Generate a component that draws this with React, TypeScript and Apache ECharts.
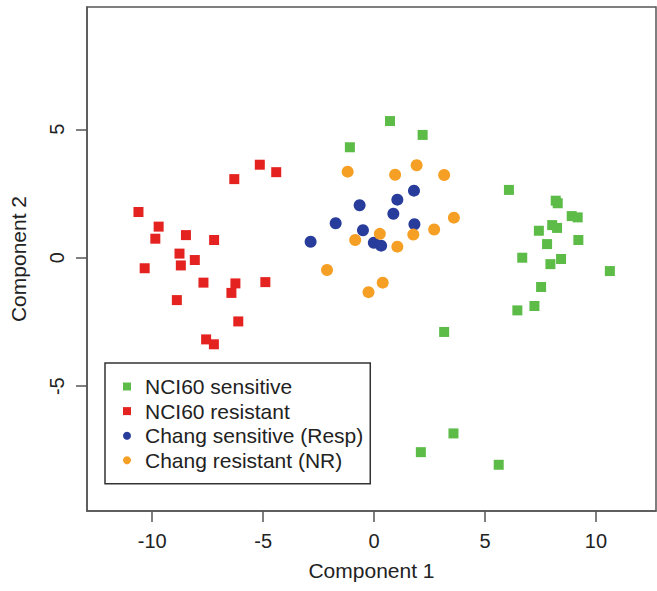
import React, { useEffect, useRef } from "react";
import * as echarts from "echarts";

const xTicks = [-10, -5, 0, 5, 10];
const yTicks = [-5, 0, 5];

const nciSensitive: [number, number][] = [
  [0.72, 5.32], [2.19, 4.78], [-1.09, 4.3],
  [6.08, 2.64], [8.19, 2.22], [8.28, 2.12], [8.91, 1.62], [9.18, 1.57],
  [8.03, 1.27], [8.25, 1.16], [7.43, 1.05], [9.21, 0.69], [7.8, 0.53],
  [6.68, 0.0], [8.43, -0.05], [7.95, -0.25], [10.63, -0.52], [7.53, -1.14],
  [7.23, -1.88], [6.46, -2.05],
  [3.16, -2.89], [3.58, -6.84], [2.11, -7.57], [5.62, -8.06],
];

const nciResistant: [number, number][] = [
  [-5.15, 3.62], [-4.41, 3.33], [-6.3, 3.06], [-10.62, 1.78], [-9.71, 1.21],
  [-9.86, 0.74], [-8.48, 0.88], [-7.21, 0.69], [-8.77, 0.16], [-8.71, -0.3],
  [-8.08, -0.09], [-10.34, -0.41], [-7.69, -0.97], [-6.25, -1.0], [-4.9, -0.95],
  [-6.43, -1.37], [-8.89, -1.65], [-6.12, -2.48], [-7.57, -3.18], [-7.22, -3.37],
];

const changSensitive: [number, number][] = [
  [1.8, 2.61], [1.05, 2.26], [-0.65, 2.04], [0.87, 1.71], [-1.73, 1.34],
  [1.82, 1.3], [-0.5, 1.07], [-2.86, 0.62], [-0.01, 0.58], [0.32, 0.47],
];

const changResistant: [number, number][] = [
  [-1.19, 3.35], [0.95, 3.23], [1.92, 3.6], [3.16, 3.22], [3.6, 1.56],
  [2.71, 1.1], [0.26, 0.93], [1.77, 0.9], [-0.85, 0.69], [1.05, 0.43],
  [-2.12, -0.48], [0.39, -0.97], [-0.25, -1.34],
];

const seriesNames = [
  "NCI60 sensitive",
  "NCI60 resistant",
  "Chang sensitive (Resp)",
  "Chang resistant (NR)",
];
const colors = ["#5cbc47", "#e42320", "#283c9c", "#f5a024"];
const FONT = "'Liberation Sans', Arial, Helvetica, sans-serif";

export default function App() {
  const ref = useRef<HTMLDivElement>(null);
  useEffect(() => {
    if (!ref.current) return;
    const chart = echarts.init(ref.current, undefined, { renderer: "svg" });
    const datasets = [nciSensitive, nciResistant, changSensitive, changResistant];
    const symbols = ["rect", "rect", "circle", "circle"];
    const sizes = [10, 10, 12, 12];
    chart.setOption({
      animation: false,
      backgroundColor: "#ffffff",
      textStyle: { fontFamily: FONT },
      grid: {
        left: 85,
        right: 1,
        top: 7,
        bottom: 80,
        show: true,
        borderColor: "#555",
        borderWidth: 1.5,
        backgroundColor: "transparent",
      },
      xAxis: {
        type: "value",
        min: -12.94,
        max: 12.71,
        name: "Component 1",
        nameLocation: "middle",
        nameGap: 49,
        nameTextStyle: { fontSize: 21, color: "#222", fontFamily: FONT },
        axisLine: { show: true, onZero: false, lineStyle: { color: "#555", width: 1.5 } },
        axisTick: { show: true, length: 11, customValues: xTicks, lineStyle: { color: "#555", width: 1.5 } },
        axisLabel: { customValues: xTicks, fontSize: 20, color: "#222", margin: 20, fontFamily: FONT },
        splitLine: { show: false },
      },
      yAxis: {
        type: "value",
        min: -9.86,
        max: 9.76,
        name: "Component 2",
        nameLocation: "middle",
        nameGap: 58,
        nameTextStyle: { fontSize: 21, color: "#222", fontFamily: FONT },
        axisLine: { show: true, onZero: false, lineStyle: { color: "#555", width: 1.5 } },
        axisTick: { show: true, length: 11, customValues: yTicks, lineStyle: { color: "#555", width: 1.5 } },
        axisLabel: { customValues: yTicks, fontSize: 20, color: "#222", margin: 20, rotate: 90, fontFamily: FONT },
        splitLine: { show: false },
      },
      legend: {
        orient: "vertical",
        left: 105,
        top: 363,
        padding: [13, 7, 13, 18],
        itemGap: 3.6,
        itemWidth: 8,
        itemHeight: 8,
        backgroundColor: "#ffffff",
        borderColor: "#333",
        borderWidth: 1.5,
        borderRadius: 0,
        selectedMode: false,
        textStyle: { fontSize: 21, color: "#222", lineHeight: 21, padding: [0, 0, 0, 9], fontFamily: FONT },
        data: seriesNames.map((n, i) => ({ name: n, icon: symbols[i] })),
      },
      series: datasets.map((d, i) => ({
        name: seriesNames[i],
        type: "scatter",
        data: d,
        symbol: symbols[i],
        symbolSize: sizes[i],
        itemStyle: { color: colors[i], opacity: 1 },
        z: i === 0 || i === 1 ? 2 : 3,
      })),
    });
    return () => chart.dispose();
  }, []);
  return (
    <div
      ref={ref}
      style={{ position: "absolute", left: 0, top: 0, width: 657, height: 591 }}
    />
  );
}
